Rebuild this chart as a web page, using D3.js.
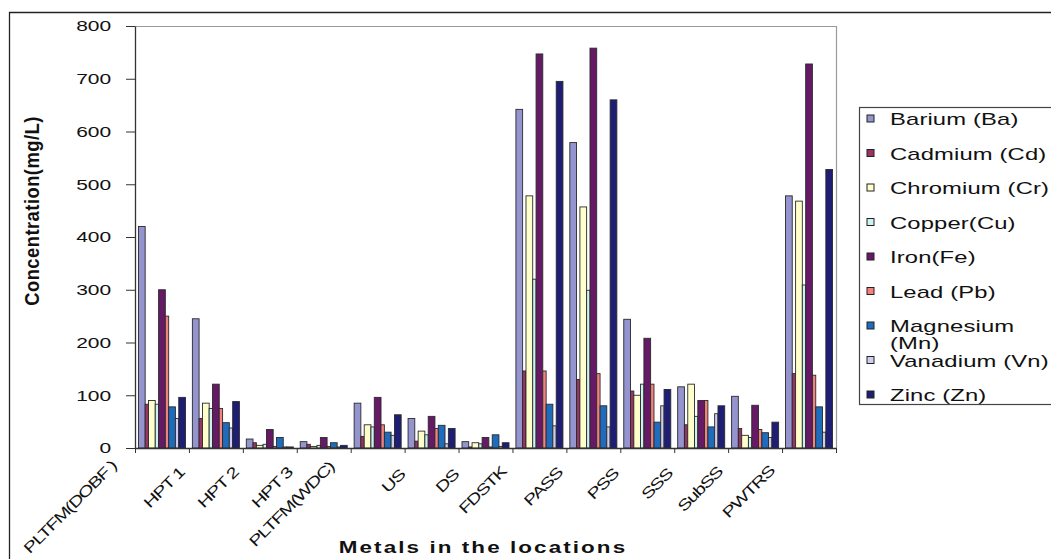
<!DOCTYPE html>
<html>
<head>
<meta charset="utf-8">
<script src="https://cdn.jsdelivr.net/npm/d3@7"></script>
<style>
  body { margin: 0; background: #fff; }
  text { font-family: "Liberation Sans", Arial, sans-serif; fill: #111; }
</style>
</head>
<body>
<div id="chart"></div>
<script>
// locations on the x axis
var categories = ["PLTFM(DOBF )", "HPT 1", "HPT 2", "HPT 3", "PLTFM(WDC)", "US", "DS",
                  "FDSTK", "PASS", "PSS", "SSS", "SubSS", "PWTRS"];

// one array per metal (mg/L)
var barium    = [420, 245, 17, 12, 85, 56, 12, 642, 579, 244, 116, 98, 478];
var cadmium   = [83, 56, 10, 7, 22, 13, 2, 146, 130, 108, 44, 37, 141];
var chromium  = [90, 85, 5, 3, 44, 32, 10, 478, 457, 100, 121, 24, 468];
var copper    = [83, 75, 7, 5, 40, 25, 8, 320, 299, 121, 60, 20, 309];
var iron      = [300, 121, 35, 20, 96, 60, 20, 747, 758, 208, 90, 81, 728];
var lead      = [250, 75, 3, 3, 44, 37, 2, 146, 141, 121, 90, 35, 138];
var magnesium = [78, 48, 20, 10, 30, 43, 25, 83, 80, 49, 40, 29, 78];
var vanadium  = [56, 38, 2, 2, 24, 8, 3, 42, 40, 80, 65, 20, 30];
var zinc      = [96, 88, 2, 5, 63, 37, 10, 695, 660, 111, 80, 49, 528];

var seriesNames = ["Barium (Ba)", "Cadmium (Cd)", "Chromium (Cr)", "Copper(Cu)", "Iron(Fe)",
                   "Lead (Pb)", "Magnesium (Mn)", "Vanadium (Vn)", "Zinc (Zn)"];
var yTicks = [0, 100, 200, 300, 400, 500, 600, 700, 800];

var series = [barium, cadmium, chromium, copper, iron, lead, magnesium, vanadium, zinc];
var colors = ["#9494cf", "#993366", "#ffffcc", "#ccf2f2", "#661a66",
              "#f48080", "#1f6cbc", "#cdcdec", "#1e1e74"];
// bars alternate wide / narrow like in the original picture
var barWeights = [2, 1, 2, 1, 2, 1, 2, 1, 2];

var W = 1051, H = 559;
var margin = {top: 26, right: 215, bottom: 111, left: 135};
var plotW = 836 - margin.left;
var plotH = 448 - margin.top;
var SX = 1.4; // text in the picture is drawn wide

var svg = d3.select("#chart").append("svg")
    .attr("width", W)
    .attr("height", H);

// outer chart frame (only top and left visible)
svg.append("path")
    .attr("d", "M9.5,559 V12.5 H1051")
    .attr("fill", "none")
    .attr("stroke", "#222")
    .attr("stroke-width", 1.3);

var g = svg.append("g")
    .attr("transform", "translate(" + margin.left + "," + margin.top + ")");

var y = d3.scaleLinear().domain([0, 800]).range([plotH, 0]);
var x0 = d3.scaleBand().domain(categories).range([0, plotW]).padding(0);
var xi = d3.scaleLinear().domain([0, categories.length]).range([0, plotW]);

var cum = [0];
barWeights.forEach(function(w, i) { cum.push(cum[i] + w); });
var x1 = d3.scaleLinear().domain([0, cum[cum.length - 1]])
    .range([x0.bandwidth() * 0.064, x0.bandwidth() * 0.936]);

// plot area border (top + right, grey)
g.append("path")
    .attr("d", "M0,0.5 H" + (plotW + 0.5) + " V" + plotH)
    .attr("fill", "none")
    .attr("stroke", "#9a9a9a")
    .attr("stroke-width", 1.2);

// bars
series.forEach(function(vals, s) {
  g.append("g").selectAll("rect")
    .data(vals)
    .enter().append("rect")
      .attr("x", function(d, i) { return x0(categories[i]) + x1(cum[s]); })
      .attr("y", function(d) { return y(d); })
      .attr("width", x1(cum[s + 1]) - x1(cum[s]))
      .attr("height", function(d) { return plotH - y(d); })
      .attr("fill", colors[s])
      .attr("stroke", "#2a2a2a")
      .attr("stroke-width", 0.9);
});

// y axis
var yAxis = g.append("g")
    .call(d3.axisLeft(y).tickValues(yTicks).tickSize(9).tickSizeOuter(0).tickPadding(8));
yAxis.select(".domain").attr("stroke", "#333").attr("stroke-width", 1.3);
yAxis.selectAll(".tick line").attr("stroke", "#333");
yAxis.selectAll("text")
    .attr("font-size", 15)
    .attr("font-family", "Liberation Sans, Arial, sans-serif")
    .attr("fill", "#111")
    .attr("transform", "scale(" + SX + ",1)");

// x axis: ticks between categories
var xAxis = g.append("g")
    .attr("transform", "translate(0," + plotH + ")")
    .call(d3.axisBottom(xi).tickValues(d3.range(categories.length + 1))
      .tickFormat("").tickSize(5).tickSizeOuter(0));
xAxis.select(".domain").attr("stroke", "#333").attr("stroke-width", 1.3);
xAxis.selectAll(".tick line").attr("stroke", "#333");

// category labels, rotated 45 degrees, wide glyphs
categories.forEach(function(c) {
  var t = g.append("text")
      .attr("font-size", 15)
      .attr("text-anchor", "end")
      .attr("letter-spacing", -1)
      .text(c);
  var L = t.node().getComputedTextLength() * 1.35;
  var cx = x0(c) + x0.bandwidth() / 2;
  var ex = cx - 21 - 0.19 * L;
  var ey = plotH + 30 - 0.09 * L;
  t.attr("transform", "translate(" + ex + "," + ey + ") rotate(-45) scale(1.35,1)");
});

// axis titles
svg.append("text")
    .attr("transform", "translate(483,553) scale(" + SX + ",1)")
    .attr("text-anchor", "middle")
    .attr("font-size", 16)
    .attr("font-weight", "bold")
    .attr("letter-spacing", 1.5)
    .text("Metals in the locations");

svg.append("text")
    .attr("transform", "translate(39,211) rotate(-90) scale(0.92,1)")
    .attr("text-anchor", "middle")
    .attr("font-size", 20)
    .attr("font-weight", "bold")
    .attr("letter-spacing", 0.5)
    .text("Concentration(mg/L)");

// legend
var lg = svg.append("g").attr("transform", "translate(859,107)");
lg.append("rect")
    .attr("x", 0.5).attr("y", 0.5)
    .attr("width", 260).attr("height", 297)
    .attr("fill", "#fff")
    .attr("stroke", "#444")
    .attr("stroke-width", 1.2);

var items = lg.selectAll("g.item")
    .data(seriesNames)
    .enter().append("g")
      .attr("class", "item")
      .attr("transform", function(d, i) { return "translate(0," + (12 + i * 34.5) + ")"; });

items.append("rect")
    .attr("x", 8).attr("y", -4)
    .attr("width", 7).attr("height", 7)
    .attr("fill", function(d, i) { return colors[i]; })
    .attr("stroke", "#222")
    .attr("stroke-width", 1);

items.each(function(d) {
  var t = d3.select(this).append("text")
      .attr("transform", "translate(31,6) scale(" + SX + ",1)")
      .attr("font-size", 17)
      .attr("letter-spacing", 0.1);
  var parts = d === "Magnesium (Mn)" ? ["Magnesium", "(Mn)"] : [d];
  parts.forEach(function(p, k) {
    t.append("tspan").attr("x", 0).attr("dy", k === 0 ? 0 : 17).text(p);
  });
});
</script>
</body>
</html>
